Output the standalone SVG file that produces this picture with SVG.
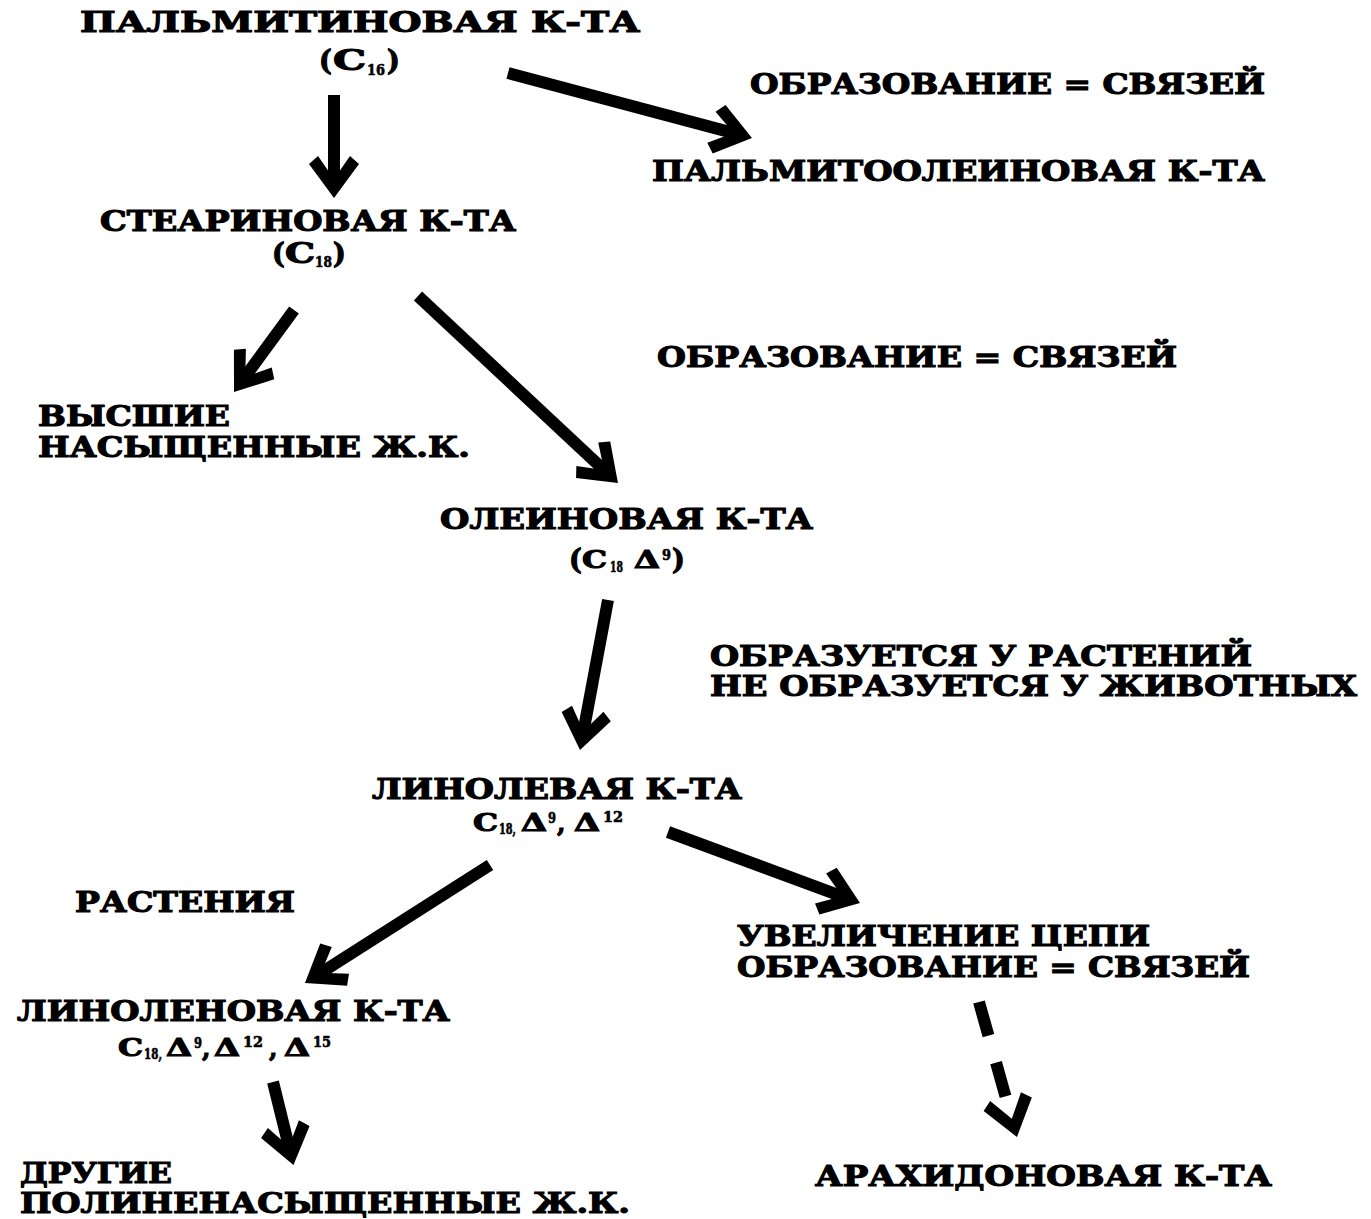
<svg xmlns="http://www.w3.org/2000/svg" width="1371" height="1219" viewBox="0 0 1371 1219">
<style>
.t{font-family:"DejaVu Serif","Liberation Serif",serif;font-weight:bold;font-size:27px;fill:#000;stroke:#000;stroke-width:1.1}
.c{font-size:24px}
.s{font-size:14px;stroke-width:0.6}
.a{fill:none;stroke:#000;stroke-width:12}
</style>
<defs>
<marker id="h" markerUnits="userSpaceOnUse" orient="auto" refX="0" refY="0" markerWidth="1" markerHeight="1" overflow="visible">
<polygon points="12,0 -22,-25 -30,-16 -7,0 -30,16 -22,25" fill="#000"/>
</marker>
</defs>
<rect width="1371" height="1219" fill="#fff"/>
<g id="connectors">
<line class="a" x1="334" y1="95" x2="334" y2="186" marker-end="url(#h)"/>
<line class="a" x1="508" y1="73" x2="740.4" y2="134.9" marker-end="url(#h)"/>
<line class="a" x1="294" y1="310" x2="241.1" y2="382.3" marker-end="url(#h)"/>
<line class="a" x1="418" y1="296" x2="609.2" y2="474.8" marker-end="url(#h)"/>
<line class="a" x1="608" y1="600" x2="582.2" y2="738.2" marker-end="url(#h)"/>
<line class="a" x1="490" y1="865" x2="315.1" y2="976.5" marker-end="url(#h)"/>
<line class="a" x1="668" y1="832" x2="848.7" y2="898.8" marker-end="url(#h)"/>
<line class="a" x1="273" y1="1082" x2="290.6" y2="1153.3" marker-end="url(#h)"/>
<line class="a" x1="979" y1="1002" x2="1013.7" y2="1125.5" stroke-dasharray="35 28 35 60" marker-end="url(#h)"/>
</g>
<g id="palmitic">
<text class="t" x="80" y="32" textLength="560" lengthAdjust="spacingAndGlyphs">ПАЛЬМИТИНОВАЯ К-ТА</text>
<text class="t" x="319" y="70">(</text><text class="t" x="333" y="70" textLength="33" lengthAdjust="spacingAndGlyphs">C</text><text class="t s" x="367" y="75" textLength="18" lengthAdjust="spacingAndGlyphs">16</text><text class="t" x="387" y="70">)</text>
</g>
<g id="label1"><text class="t" x="750" y="94" textLength="515" lengthAdjust="spacingAndGlyphs">ОБРАЗОВАНИЕ = СВЯЗЕЙ</text></g>
<g id="palmitoleic"><text class="t" x="652" y="181" textLength="613" lengthAdjust="spacingAndGlyphs">ПАЛЬМИТООЛЕИНОВАЯ К-ТА</text></g>
<g id="stearic">
<text class="t" x="100" y="231" textLength="416" lengthAdjust="spacingAndGlyphs">СТЕАРИНОВАЯ К-ТА</text>
<text class="t" x="272" y="263">(</text><text class="t" x="285" y="263" textLength="30" lengthAdjust="spacingAndGlyphs">C</text><text class="t s" x="315" y="267" textLength="17" lengthAdjust="spacingAndGlyphs">18</text><text class="t" x="333" y="263">)</text>
</g>
<g id="label2"><text class="t" x="657" y="367" textLength="520" lengthAdjust="spacingAndGlyphs">ОБРАЗОВАНИЕ = СВЯЗЕЙ</text></g>
<g id="saturated">
<text class="t" x="38" y="426" textLength="192" lengthAdjust="spacingAndGlyphs">ВЫСШИЕ</text>
<text class="t" x="38" y="457" textLength="432" lengthAdjust="spacingAndGlyphs">НАСЫЩЕННЫЕ Ж.К.</text>
</g>
<g id="oleic">
<text class="t" x="440" y="529" textLength="373" lengthAdjust="spacingAndGlyphs">ОЛЕИНОВАЯ К-ТА</text>
<text class="t" x="569" y="569">(</text><text class="t c" x="582" y="568" textLength="25" lengthAdjust="spacingAndGlyphs">C</text><text class="t s" x="610" y="572" textLength="13" lengthAdjust="spacingAndGlyphs">18</text><text class="t c" x="634" y="568" textLength="26" lengthAdjust="spacingAndGlyphs">Δ</text><text class="t s" x="662" y="560" textLength="9" lengthAdjust="spacingAndGlyphs">9</text><text class="t" x="672" y="569">)</text>
</g>
<g id="label3">
<text class="t" x="710" y="666" textLength="542" lengthAdjust="spacingAndGlyphs">ОБРАЗУЕТСЯ У РАСТЕНИЙ</text>
<text class="t" x="710" y="696" textLength="647" lengthAdjust="spacingAndGlyphs">НЕ ОБРАЗУЕТСЯ У ЖИВОТНЫХ</text>
</g>
<g id="linoleic">
<text class="t" x="372" y="799" textLength="370" lengthAdjust="spacingAndGlyphs">ЛИНОЛЕВАЯ К-ТА</text>
<text class="t c" x="473" y="831" textLength="25" lengthAdjust="spacingAndGlyphs">C</text><text class="t s" x="499" y="834" textLength="17" lengthAdjust="spacingAndGlyphs">18,</text><text class="t c" x="521" y="831" textLength="26" lengthAdjust="spacingAndGlyphs">Δ</text><text class="t s" x="548" y="823" textLength="8" lengthAdjust="spacingAndGlyphs">9</text><text class="t c" x="557" y="832">,</text><text class="t c" x="574" y="831" textLength="26" lengthAdjust="spacingAndGlyphs">Δ</text><text class="t s" x="603" y="822" textLength="20" lengthAdjust="spacingAndGlyphs">12</text>
</g>
<g id="label4"><text class="t" x="75" y="912" textLength="220" lengthAdjust="spacingAndGlyphs">РАСТЕНИЯ</text></g>
<g id="label5">
<text class="t" x="737" y="946" textLength="413" lengthAdjust="spacingAndGlyphs">УВЕЛИЧЕНИЕ ЦЕПИ</text>
<text class="t" x="737" y="977" textLength="513" lengthAdjust="spacingAndGlyphs">ОБРАЗОВАНИЕ = СВЯЗЕЙ</text>
</g>
<g id="linolenic">
<text class="t" x="17" y="1021" textLength="433" lengthAdjust="spacingAndGlyphs">ЛИНОЛЕНОВАЯ К-ТА</text>
<text class="t c" x="118" y="1056" textLength="25" lengthAdjust="spacingAndGlyphs">C</text><text class="t s" x="144" y="1059" textLength="18" lengthAdjust="spacingAndGlyphs">18,</text><text class="t c" x="166" y="1056" textLength="26" lengthAdjust="spacingAndGlyphs">Δ</text><text class="t s" x="194" y="1048" textLength="8" lengthAdjust="spacingAndGlyphs">9</text><text class="t c" x="202" y="1057">,</text><text class="t c" x="214" y="1056" textLength="26" lengthAdjust="spacingAndGlyphs">Δ</text><text class="t s" x="243" y="1047" textLength="20" lengthAdjust="spacingAndGlyphs">12</text><text class="t c" x="269" y="1057">,</text><text class="t c" x="284" y="1056" textLength="26" lengthAdjust="spacingAndGlyphs">Δ</text><text class="t s" x="313" y="1047" textLength="18" lengthAdjust="spacingAndGlyphs">15</text>
</g>
<g id="polyunsaturated">
<text class="t" x="20" y="1183" textLength="152" lengthAdjust="spacingAndGlyphs">ДРУГИЕ</text>
<text class="t" x="20" y="1213" textLength="610" lengthAdjust="spacingAndGlyphs">ПОЛИНЕНАСЫЩЕННЫЕ Ж.К.</text>
</g>
<g id="arachidonic"><text class="t" x="815" y="1186" textLength="457" lengthAdjust="spacingAndGlyphs">АРАХИДОНОВАЯ К-ТА</text></g>
</svg>
